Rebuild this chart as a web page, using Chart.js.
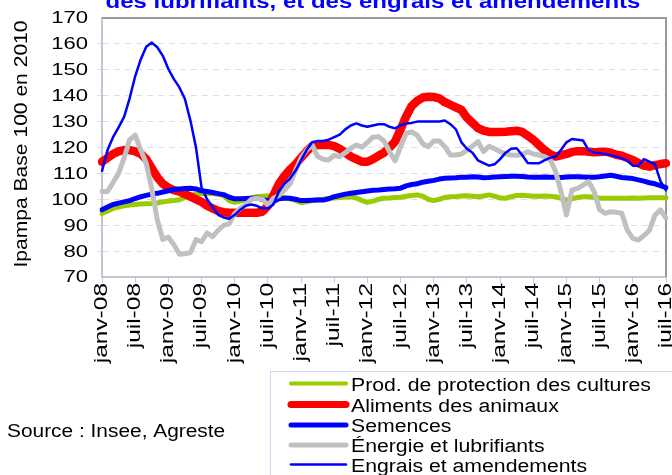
<!DOCTYPE html>
<html>
<head>
<meta charset="utf-8">
<script src="https://cdn.jsdelivr.net/npm/chart.js@4.4.1/dist/chart.umd.min.js"></script>
<style>
    html, body { margin: 0; padding: 0; background: #ffffff; }
    .chart-box { width: 672px; height: 475px; }
</style>
</head>
<body>
<div class="chart-box"><canvas id="ipampaChart" width="672" height="475"></canvas></div>
<script>
const monthNames = ['janv', 'févr', 'mars', 'avr', 'mai', 'juin', 'juil', 'août', 'sept', 'oct', 'nov', 'déc'];
const yearNames = ['08', '09', '10', '11', '12', '13', '14', '15', '16'];
const yTicks = [70, 80, 90, 100, 110, 120, 130, 140, 150, 160, 170];

// janv-08 .. juil-16, one point a month
const months = [];
yearNames.forEach(y => monthNames.forEach(m => months.push(m + '-' + y)));
months.length = 103;

const protectionVals = [
    94.5, 95.5, 96.5, 97, 97.5, 97.8, 98, 98.2, 98.3, 98.4, 98.6, 99,
    99.3, 99.5, 99.8, 100.8, 101.6, 102, 102.2, 102.3, 102.2, 101.9, 101.4, 99.5,
    98.8, 99.3, 100, 100.5, 101, 101.2, 101.4, 101.2, 101, 100.7, 100.2, 99.6,
    98.7, 99, 99.5, 99.8, 100, 100.3, 100.5, 100.7, 100.9, 101, 100.5, 99.5,
    98.8, 99.3, 100, 100.4, 100.5, 100.7, 100.8, 101.2, 101.5, 101.7, 101.2, 100,
    99.5, 100, 100.7, 101, 101.1, 101.3, 101.4, 101.2, 101, 101.3, 101.7, 101.2,
    100.5, 100.4, 101, 101.5, 101.6, 101.4, 101.2, 101.2, 101.3, 101.2, 101, 100.4,
    99.7, 100.2, 100.7, 101, 101, 100.8, 100.4, 100.4, 100.4, 100.4, 100.4, 100.4,
    100.5, 100.4, 100.5, 100.6, 100.6, 100.6, 100.6
];
const alimentsVals = [
    114.5, 116, 117.5, 118.5, 119, 119, 118.5, 117.5, 115.5, 112, 108.5, 106,
    104.5, 103.5, 103, 102, 101, 100, 99, 97.5, 96.5, 95.5, 95, 94.8,
    94.8, 94.8, 94.8, 94.8, 94.8, 95.2, 97.5, 101.5, 106, 109, 111.5, 113.5,
    116, 118.5, 120.5, 121, 121, 121, 120.5, 119.5, 118, 116.5, 115.5, 114.5,
    114.5, 115.5, 116.8, 118, 120, 122.3, 127, 132, 136, 138, 139.3, 139.6,
    139.5, 139, 137.5, 136.5, 135.5, 134.5, 131.5, 129.5, 127.5, 126.5, 126, 126,
    126, 126.1, 126.3, 126.5, 126, 124.5, 123, 121, 119, 117.5, 116.5, 117,
    117.5, 118.3, 118.6, 118.6, 118.4, 118.2, 118.3, 118.4, 118, 117.2, 116.8, 116,
    115.2, 114, 113, 112.6, 113.2, 113.6, 113.9
];
const semencesVals = [
    96, 97, 98, 98.5, 99, 99.5, 100.3, 101, 101.5, 102, 102.3, 102.8,
    103.3, 103.8, 104, 104.2, 104.3, 104, 103.3, 103, 102.6, 102.2, 101.8, 100.8,
    100.2, 100.2, 100.3, 100.4, 100.5, 100, 99.4, 99.2, 100.2, 100.4, 100.4, 100,
    99.5, 99.5, 99.6, 99.7, 99.7, 100.2, 101, 101.5, 102, 102.3, 102.6, 102.9,
    103.2, 103.5, 103.6, 103.8, 104, 104.1, 104.3, 105.2, 105.7, 106, 106.6, 107,
    107.3, 107.8, 108.1, 108.2, 108.3, 108.5, 108.5, 108.7, 108.6, 108.3, 108.4, 108.6,
    108.7, 108.8, 108.9, 108.9, 108.8, 108.6, 108.5, 108.5, 108.6, 108.5, 108.5, 108.4,
    108.6, 108.7, 108.7, 108.6, 108.5, 108.5, 108.7, 109, 109.3, 108.9, 108.4, 108.2,
    108, 107.5, 107, 106.4, 106, 105.3, 104.5
];
const energieVals = [
    103, 103, 106.5, 110, 116, 123, 124.8, 119, 113.9, 104, 92, 84.5,
    85.4, 82.5, 78.8, 79, 79.4, 84.5, 83.6, 87, 85.6, 88, 90, 90.5,
    94.5, 96.5, 98, 100, 100.4, 100, 97.8, 100.4, 101.5, 103.5, 106, 111,
    116, 119, 121, 116.5, 115.5, 115.2, 117, 116.5, 118, 119.7, 121, 120.1,
    122, 124, 124.2, 122.5, 118.4, 114.8, 120.3, 125.5, 126, 124.8, 121.5, 120.3,
    122.5, 122.5, 120.3, 117.1, 117.1, 117.5, 119, 120.5, 122.3, 118.4, 120.5, 119.5,
    118.4, 117.5, 117.1, 117, 117.3, 118.4, 117.5, 117.1, 116.5, 115.5, 111, 103,
    94, 103.6, 104.2, 105.5, 106.8, 103, 96, 94.6, 95.2, 95, 94.6, 88.1,
    84.9, 84.3, 86, 88, 93.9, 95.9, 92.7
];
const engraisVals = [
    111, 119, 124, 127.8, 131.8, 139, 147.5, 154, 158.9, 160.5, 158.7, 155.4,
    150.3, 146.4, 143.2, 138.7, 130.3, 120, 104.6, 100, 97, 94, 93, 92.5,
    94, 96, 97.5, 98, 97.5, 96.5, 96.5, 98, 103, 106, 108, 111,
    115, 119, 122, 122.5, 122.5, 123, 124, 125, 127, 128.5, 129.3, 128.5,
    128, 128.5, 129, 129, 128, 127.4, 128.5, 129.3, 129.5, 130, 130, 130,
    130, 130, 130.4, 129, 127, 122, 119.5, 118, 115, 114, 113, 113.5,
    115.5, 118, 119.5, 119.7, 117, 114, 113.9, 113.9, 115, 116, 116.5, 119,
    122, 123.3, 123, 122.7, 119, 118, 117.8, 117.5, 117, 116.5, 115.8, 114.9,
    113, 113, 115.5, 114.5, 113.6, 107, 103.5
];

const chartCanvas = document.querySelector('#ipampaChart');
const fontName = '"Liberation Sans", Arial, sans-serif';

const titleTxt = 'des lubrifiants, et des engrais et amendements';
const yAxisTxt = 'Ipampa Base 100 en 2010';
const sourceTxt = 'Source : Insee, Agreste';

Chart.defaults.font.family = fontName;

// stretched text, the reference glyphs are wider than Arial
function drawWideText(ctx, txt, x, y, angle, stretch, align) {
    ctx.save();
    ctx.translate(x, y);
    ctx.rotate(angle);
    ctx.scale(stretch, 1);
    ctx.textAlign = align;
    ctx.fillText(txt, 0, 0);
    ctx.restore();
}

const plotFrame = {
    id: 'plotFrame',
    beforeDatasetsDraw(chart) {
        const ctx = chart.ctx;
        const { left, right, top, bottom } = chart.chartArea;
        ctx.save();
        ctx.strokeStyle = '#9a9a9a';
        ctx.lineWidth = 2;
        ctx.beginPath();
        ctx.moveTo(left, top);
        ctx.lineTo(right, top);
        ctx.lineTo(right, bottom);
        ctx.stroke();
        ctx.restore();
    }
};

const extraText = {
    id: 'extraText',
    afterDraw(chart) {
        const ctx = chart.ctx;
        const { left, bottom } = chart.chartArea;
        const xScale = chart.scales.x;
        const yScale = chart.scales.y;

        ctx.save();
        ctx.fillStyle = '#000000';
        ctx.textBaseline = 'middle';
        ctx.font = '18px ' + fontName;
        months.forEach((m, i) => {
            if (i % 6 !== 0) return;
            drawWideText(ctx, m, xScale.getPixelForValue(i), bottom + 6, -Math.PI / 2, 1.36, 'right');
        });

        ctx.font = '16px ' + fontName;
        yScale.ticks.forEach(t => {
            drawWideText(ctx, String(t.value), left - 14, yScale.getPixelForValue(t.value) + 1, 0, 1.38, 'right');
        });

        ctx.textBaseline = 'alphabetic';
        ctx.font = '18px ' + fontName;
        drawWideText(ctx, yAxisTxt, 27, 144, -Math.PI / 2, 1.17, 'center');

        drawWideText(ctx, sourceTxt, 7, 437, 0, 1.16, 'left');

        ctx.fillStyle = '#0000ff';
        ctx.font = 'bold 20px ' + fontName;
        drawWideText(ctx, titleTxt, 373, 8, 0, 1.2, 'center');

        // legend
        ctx.strokeStyle = '#d4d4f4';
        ctx.lineWidth = 1;
        ctx.strokeRect(270.5, 371.5, 500, 200);

        const legendOrder = [0, 1, 2, 3, 4];
        const legendWidths = [4, 7, 5, 5, 2.5];
        const rowBase = [390.5, 411.5, 432, 452, 471.5];
        ctx.font = '18px ' + fontName;
        ctx.fillStyle = '#000000';
        legendOrder.forEach((d, i) => {
            const ds = chart.data.datasets[d];
            const lineY = rowBase[i] - 7;
            ctx.save();
            ctx.strokeStyle = ds.borderColor;
            ctx.lineWidth = legendWidths[i];
            ctx.lineCap = 'round';
            ctx.beginPath();
            ctx.moveTo(291, lineY);
            ctx.lineTo(346, lineY);
            ctx.stroke();
            ctx.restore();
            drawWideText(ctx, ds.label, 351, rowBase[i], 0, 1.18, 'left');
        });
        ctx.restore();
    }
};

function makeLine(label, data, color, width, order) {
    return {
        label: label,
        data: data,
        borderColor: color,
        backgroundColor: color,
        borderWidth: width,
        pointRadius: 0,
        fill: false,
        tension: 0,
        borderJoinStyle: 'round',
        borderCapStyle: 'round',
        order: order
    };
}

new Chart(chartCanvas, {
    type: 'line',
    data: {
        labels: months,
        datasets: [
            makeLine('Prod. de protection des cultures', protectionVals, '#99cc00', 5, 5),
            makeLine('Aliments des animaux', alimentsVals, '#ff0000', 8.5, 4),
            makeLine('Semences', semencesVals, '#0000ff', 5, 3),
            makeLine('Énergie et lubrifiants', energieVals, '#c0c0c0', 5, 2),
            makeLine('Engrais et amendements', engraisVals, '#0000ff', 2.5, 1)
        ]
    },
    options: {
        responsive: false,
        animation: false,
        layout: { padding: { top: 18, right: 6, left: 0, bottom: 0 } },
        plugins: {
            legend: { display: false },
            tooltip: { enabled: false }
        },
        scales: {
            x: {
                ticks: { display: false, autoSkip: false },
                grid: {
                    drawOnChartArea: false,
                    color: c => c.index % 6 === 0 ? '#c8c8dc' : 'rgba(0,0,0,0)',
                    tickLength: 6
                },
                border: { color: '#c4c4d4', width: 2 },
                afterFit: s => { s.height = 198; s.paddingLeft = 0; s.paddingRight = 0; }
            },
            y: {
                min: yTicks[0],
                max: yTicks[yTicks.length - 1],
                ticks: {
                    stepSize: yTicks[1] - yTicks[0],
                    display: false
                },
                grid: {
                    color: c => (c.tick.value === yTicks[0] || c.tick.value === yTicks[yTicks.length - 1]) ? 'rgba(0,0,0,0)' : '#dcdcf4',
                    tickLength: 5
                },
                border: { color: '#c4c4d4', width: 2, dash: [6, 5] },
                afterFit: s => { s.width = 102; }
            }
        }
    },
    plugins: [plotFrame, extraText]
});
</script>
</body>
</html>
